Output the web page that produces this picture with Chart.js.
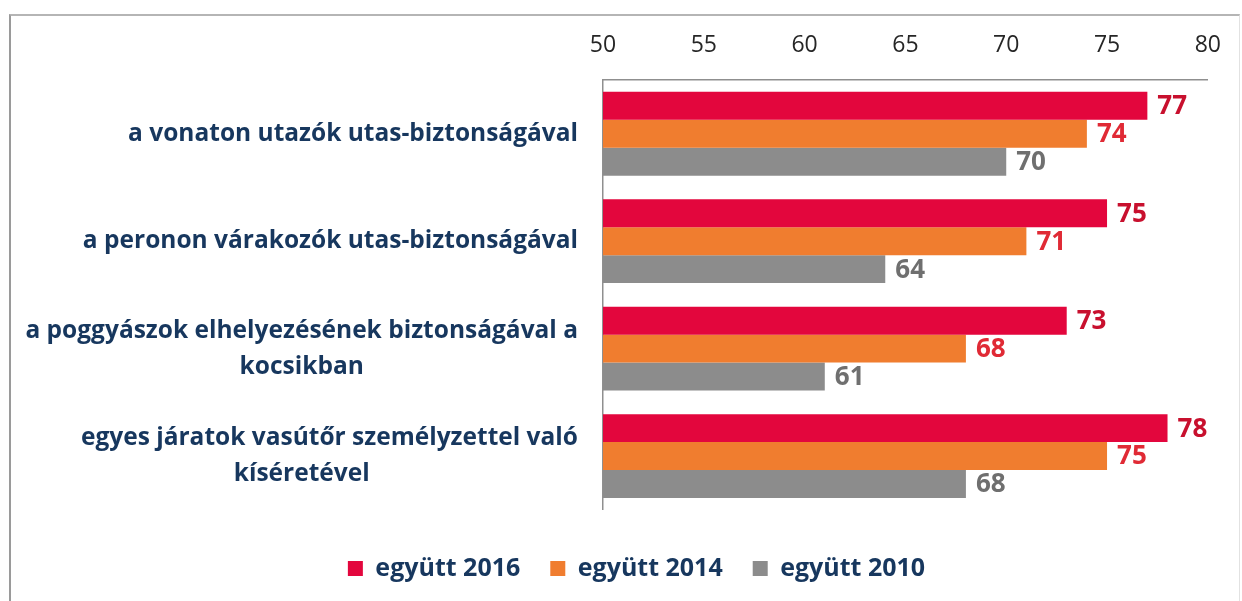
<!DOCTYPE html>
<html>
<head>
<meta charset="utf-8">
<script src="https://cdn.jsdelivr.net/npm/chart.js@4.4.0/dist/chart.umd.min.js"></script>
<style>
  html, body { margin: 0; padding: 0; background: #fff; }
  #wrap { position: relative; width: 1242px; height: 601px; }
  #frame { position: absolute; left: 9px; top: 14px; width: 1228px; height: 600px;
           border-left: 2px solid #9a9a9a; border-top: 2px solid #b5b5b5; border-right: 1px solid #e2e2e2; }
  canvas { position: absolute; left: 0; top: 0; }
</style>
</head>
<body>
<div id="wrap">
  <div id="frame"></div>
  <canvas id="chart" width="1242" height="601"></canvas>
</div>
<script>
var categories = [
  ["a vonaton utazók utas-biztonságával"],
  ["a peronon várakozók utas-biztonságával"],
  ["a poggyászok elhelyezésének biztonságával a", "kocsikban"],
  ["egyes járatok vasútőr személyzettel való", "kíséretével"]
];
var seriesNames = ["együtt 2016", "együtt 2014", "együtt 2010"];
var values2016 = [77, 75, 73, 78];
var values2014 = [74, 71, 68, 75];
var values2010 = [70, 64, 61, 68];
var xTicks = [50, 55, 60, 65, 70, 75, 80];

var barColors = ["#e3063d", "#f07d2f", "#8c8c8c"];
var labelColors = ["#c8102e", "#e02a35", "#6f6f6f"];
var navy = "#17375e";
var fontFamily = "'Open Sans', Lato, sans-serif";

// value labels at the end of every bar
var barValues = {
  id: 'barValues',
  afterDatasetsDraw: function(chart) {
    var ctx = chart.ctx;
    ctx.save();
    ctx.font = "bold 26px " + fontFamily;
    ctx.textAlign = "left";
    ctx.textBaseline = "middle";
    chart.data.datasets.forEach(function(ds, di) {
      var meta = chart.getDatasetMeta(di);
      ctx.fillStyle = labelColors[di];
      meta.data.forEach(function(bar, i) {
        ctx.fillText(ds.data[i], bar.x + 10, bar.y + 1);
      });
    });
    ctx.restore();
  }
};

// category labels: first line right aligned, wrapped lines centred
var catLabels = {
  id: 'catLabels',
  afterDraw: function(chart) {
    var ctx = chart.ctx;
    var yScale = chart.scales.y;
    var right = chart.chartArea.left - 25;
    var lineH = 36;
    ctx.save();
    ctx.font = "bold 24.5px " + fontFamily;
    ctx.fillStyle = navy;
    ctx.textBaseline = "middle";
    var maxW = 0;
    categories.forEach(function(lines) {
      lines.forEach(function(l) { maxW = Math.max(maxW, ctx.measureText(l).width); });
    });
    var mid = right - maxW / 2;
    categories.forEach(function(lines, i) {
      var cy = yScale.getPixelForValue(i);
      var y0 = cy - (lines.length - 1) * lineH / 2;
      lines.forEach(function(l, k) {
        if (k == 0) {
          ctx.textAlign = "right";
          ctx.fillText(l, right, y0);
        } else {
          ctx.textAlign = "center";
          ctx.fillText(l, mid, y0 + k * lineH);
        }
      });
    });
    ctx.restore();
  }
};

var ctx = document.getElementById("chart").getContext('2d');
var chart = new Chart(ctx, {
  type: "bar",
  data: {
    labels: categories.map(function(c) { return c.join(" "); }),
    datasets: [
      { label: seriesNames[0], data: values2016, backgroundColor: barColors[0] },
      { label: seriesNames[1], data: values2014, backgroundColor: barColors[1] },
      { label: seriesNames[2], data: values2010, backgroundColor: barColors[2] }
    ]
  },
  options: {
    indexAxis: 'y',
    responsive: false,
    animation: false,
    layout: { padding: { left: 62, right: 31, top: 0, bottom: 10 } },
    datasets: { bar: { barPercentage: 1, categoryPercentage: 0.78 } },
    plugins: {
      tooltip: { enabled: false },
      legend: {
        position: 'bottom',
        title: { display: true, text: '', padding: { top: 15, bottom: 0 }, font: { size: 1 } },
        labels: {
          boxWidth: 15,
          boxHeight: 15,
          padding: 30,
          color: navy,
          font: { family: fontFamily, size: 25, weight: 'bold' }
        }
      }
    },
    scales: {
      x: {
        position: 'top',
        min: 50,
        max: 80,
        afterBuildTicks: function(scale) {
          scale.ticks = xTicks.map(function(v) { return { value: v }; });
        },
        afterFit: function(scale) { scale.height = 80; },
        grid: { display: false, drawTicks: false },
        border: { display: true, color: '#8f8f8f', width: 1.5 },
        ticks: {
          padding: 21,
          color: '#262626',
          font: { family: fontFamily, size: 23 }
        }
      },
      y: {
        afterFit: function(scale) { scale.width = 541; },
        grid: { display: false, drawTicks: false },
        border: { display: true, color: '#8f8f8f', width: 1.5 },
        ticks: { display: false }
      }
    }
  },
  plugins: [barValues, catLabels]
});
</script>
</body>
</html>
